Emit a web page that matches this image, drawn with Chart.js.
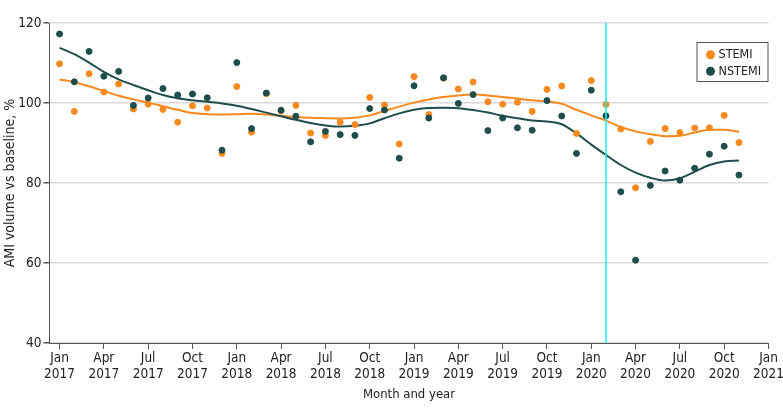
<!DOCTYPE html>
<html>
<head>
<meta charset="utf-8">
<script src="https://cdn.jsdelivr.net/npm/chart.js@4.4.1/dist/chart.umd.min.js"></script>
<style>
html,body{margin:0;padding:0;background:#fff;}
#wrap{width:783px;height:419px;position:relative;}
</style>
</head>
<body>
<div id="wrap"><canvas id="c" width="783" height="419"></canvas></div>
<script>
// Month index: 0 = Jan 2017 ... 46 = Nov 2020
const monthIndex = Array.from({length: 47}, (_, i) => i);

const stemiPoints = [109.8, 97.9, 107.3, 102.75, 104.75, 98.5, 99.7, 98.4, 95.2, 99.3, 98.75, 87.4,
  104.1, 92.7, 102.3, 98.0, 99.4, 92.5, 91.9, 95.2, 94.6, 101.4, 99.5, 89.75,
  106.6, 97.1, 106.2, 103.5, 105.25, 100.3, 99.7, 100.2, 97.9, 103.4, 104.25, 92.4,
  105.6, 99.6, 93.5, 78.8, 90.4, 93.6, 92.6, 93.75, 93.8, 96.9, 90.1];

const nstemiPoints = [117.25, 105.3, 112.9, 106.7, 107.9, 99.4, 101.25, 103.6, 102.0, 102.25, 101.3, 88.2,
  110.1, 93.6, 102.5, 98.2, 96.7, 90.3, 92.9, 92.1, 91.9, 98.6, 98.25, 86.2,
  104.3, 96.25, 106.3, 99.9, 102.1, 93.1, 96.25, 93.8, 93.2, 100.6, 96.75, 87.4,
  103.2, 96.8, 77.8, 60.7, 79.4, 83.0, 80.7, 83.7, 87.2, 89.2, 82.0];

const stemiTrend = [105.9, 105.2, 104.2, 103.0, 101.8, 100.9, 100.1, 99.2, 98.3, 97.5, 97.2, 97.1,
  97.2, 97.3, 97.1, 96.8, 96.5, 96.3, 96.2, 96.1, 96.3, 96.9, 98.0, 99.1,
  100.1, 100.9, 101.5, 101.9, 102.1, 101.9, 101.5, 101.1, 100.7, 100.4, 99.8, 98.3,
  96.9, 95.6, 94.0, 92.9, 92.2, 91.7, 91.8, 92.6, 93.3, 93.3, 92.8];

const nstemiTrend = [113.8, 112.2, 110.1, 107.8, 105.9, 104.5, 103.2, 102.0, 101.2, 100.7, 100.3, 99.9,
  99.3, 98.5, 97.6, 96.7, 95.8, 95.0, 94.4, 94.1, 94.3, 94.9, 96.2, 97.4,
  98.3, 98.75, 98.8, 98.7, 98.25, 97.6, 96.8, 96.2, 95.6, 95.4, 94.7, 92.4,
  89.6, 87.0, 84.5, 82.6, 81.3, 80.6, 81.2, 82.8, 84.5, 85.4, 85.6];

const tickPositions = [0, 3, 6, 9, 12, 15, 18, 21, 24, 27, 30, 33, 36, 39, 42, 45, 48];
const tickMonthNames = ["Jan","Apr","Jul","Oct","Jan","Apr","Jul","Oct","Jan","Apr","Jul","Oct","Jan","Apr","Jul","Oct","Jan"];
const tickYears = ["2017","2017","2017","2017","2018","2018","2018","2018","2019","2019","2019","2019","2020","2020","2020","2020","2021"];
const yTicks = [40, 60, 80, 100, 120];

const pandemicMarker = 37; // vertical reference line (month index)
const seriesNames = ["STEMI", "NSTEMI"];

const ORANGE = "#F7891E";
const DARK = "#1F4D4B";
const FONT = "'DejaVu Sans Condensed', 'DejaVu Sans', sans-serif";

const toXY = (arr) => arr.map((v, i) => ({x: monthIndex[i], y: v}));

const markerPlugin = {
  id: 'marker',
  afterDatasetsDraw(chart) {
    const {ctx, chartArea, scales} = chart;
    const x = scales.x.getPixelForValue(pandemicMarker);
    ctx.save();
    ctx.strokeStyle = '#1EEEF6';
    ctx.lineWidth = 1.6;
    ctx.beginPath();
    ctx.moveTo(x, chartArea.top);
    ctx.lineTo(x, chartArea.bottom);
    ctx.stroke();
    ctx.restore();
  }
};

const legendPlugin = {
  id: 'boxLegend',
  afterDraw(chart) {
    const {ctx, chartArea} = chart;
    const bx = chartArea.right - 72, by = chartArea.top + 19, bw = 72, bh = 40;
    ctx.save();
    ctx.fillStyle = '#fff';
    ctx.fillRect(bx, by, bw, bh);
    ctx.strokeStyle = '#555';
    ctx.lineWidth = 1;
    ctx.strokeRect(bx + 0.5, by + 0.5, bw - 1, bh - 1);
    const colors = [ORANGE, DARK];
    ctx.font = "12.5px " + FONT;
    ctx.textBaseline = 'middle';
    ctx.textAlign = 'left';
    seriesNames.forEach((name, k) => {
      const cy = by + 12.7 + k * 16.6;
      ctx.fillStyle = colors[k];
      ctx.beginPath();
      ctx.arc(bx + 14, cy, 4.5, 0, Math.PI * 2);
      ctx.fill();
      ctx.fillStyle = '#222';
      ctx.fillText(name, bx + 22, cy + 0.5);
    });
    ctx.restore();
  }
};

new Chart(document.getElementById('c'), {
  type: 'scatter',
  data: {
    datasets: [
      {label: 'NSTEMI', data: toXY(nstemiPoints), backgroundColor: DARK, borderColor: DARK,
        pointRadius: 3, pointHoverRadius: 3, showLine: false, order: 0},
      {label: 'STEMI', data: toXY(stemiPoints), backgroundColor: ORANGE, borderColor: ORANGE,
        pointRadius: 3, pointHoverRadius: 3, showLine: false, order: 1},
      {label: 'NSTEMI trend', data: toXY(nstemiTrend), borderColor: DARK, backgroundColor: DARK,
        pointRadius: 0, showLine: true, borderWidth: 2, cubicInterpolationMode: 'monotone', order: 2},
      {label: 'STEMI trend', data: toXY(stemiTrend), borderColor: ORANGE, backgroundColor: ORANGE,
        pointRadius: 0, showLine: true, borderWidth: 2, cubicInterpolationMode: 'monotone', order: 3}
    ]
  },
  options: {
    responsive: false,
    animation: false,
    events: [],
    layout: {padding: {top: 23, right: 14.5, left: 0, bottom: 0}},
    plugins: {legend: {display: false}, tooltip: {enabled: false}},
    scales: {
      x: {
        type: 'linear',
        min: -0.68,
        max: 48,
        afterBuildTicks(scale) { scale.ticks = tickPositions.map(v => ({value: v})); },
        afterFit(scale) { scale.height = 76; scale.paddingLeft = 0; scale.paddingRight = 0; },
        grid: {drawOnChartArea: false, drawTicks: true, tickLength: 6, color: '#555', tickColor: '#555'},
        border: {display: true, color: '#555', width: 1},
        ticks: {
          autoSkip: false,
          maxRotation: 0,
          padding: 2,
          color: '#222',
          font: {family: FONT, size: 13.5, lineHeight: 1.15},
          callback(value) {
            const k = tickPositions.indexOf(value);
            return k >= 0 ? [tickMonthNames[k], tickYears[k]] : '';
          }
        },
        title: {display: true, text: 'Month and year', color: '#222',
          font: {family: FONT, size: 13}, padding: {top: 0, bottom: 17}}
      },
      y: {
        min: 40,
        max: 120,
        afterBuildTicks(scale) { scale.ticks = yTicks.map(v => ({value: v})); },
        afterFit(scale) { scale.width = 49.5; scale.paddingTop = 0; scale.paddingBottom = 0; },
        grid: {color: '#dadada', lineWidth: 1.5, tickColor: '#555', tickLength: 6},
        border: {display: true, color: '#555', width: 1},
        ticks: {padding: 2, color: '#222', font: {family: FONT, size: 13.5}},
        title: {display: true, text: 'AMI volume vs baseline, %', color: '#222',
          font: {family: FONT, size: 14}, padding: {top: 2, bottom: 0}}
      }
    }
  },
  plugins: [markerPlugin, legendPlugin]
});
</script>
</body>
</html>
